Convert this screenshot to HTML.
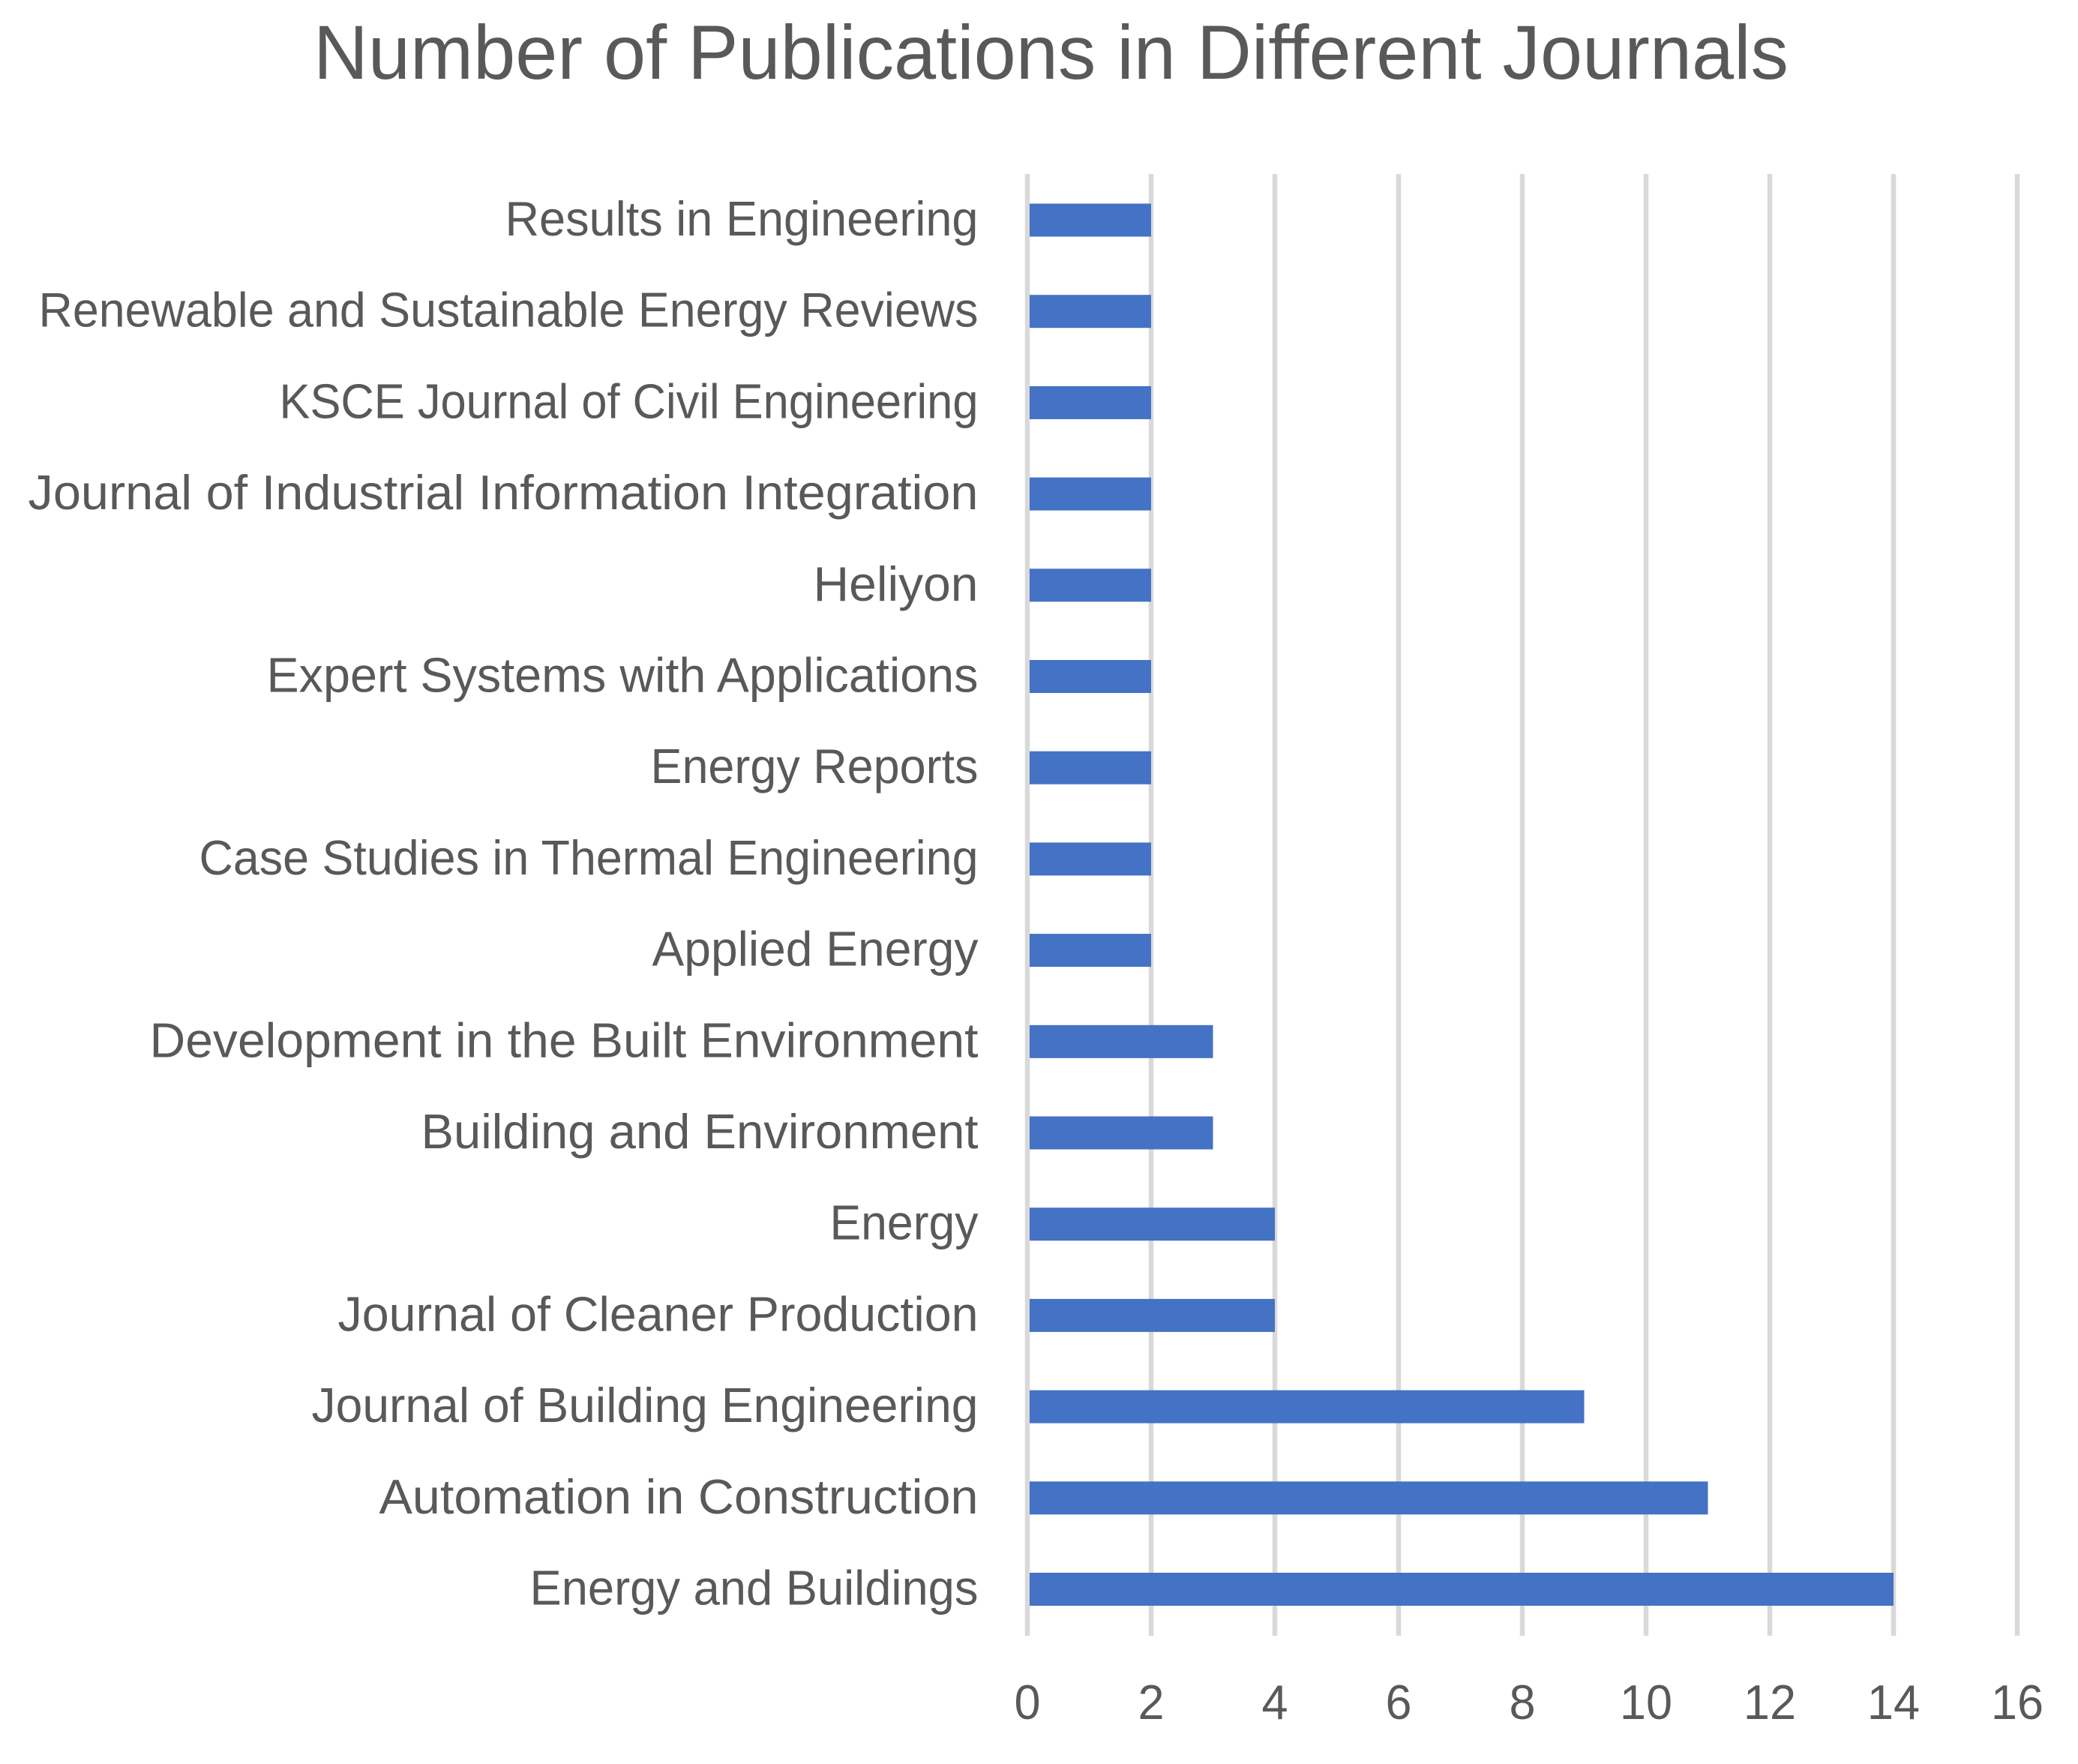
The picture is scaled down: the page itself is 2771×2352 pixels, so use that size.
<!DOCTYPE html>
<html lang="en">
<head>
<meta charset="utf-8">
<title>Number of Publications in Different Journals</title>
<style>
  html, body { margin: 0; padding: 0; background: #fff; }
  body { width: 2771px; height: 2352px; overflow: hidden; }
  svg { display: block; }
  text { font-family: "Liberation Sans", sans-serif; fill: #595959; }
  .category-label { font-size: 65px; text-anchor: end; }
</style>
</head>
<body>
<svg id="chart" xmlns="http://www.w3.org/2000/svg" width="2771" height="2352" viewBox="0 0 2771 2352">
  <rect x="0" y="0" width="2771" height="2352" fill="#ffffff"/>
  <text x="418" y="105" font-size="102" textLength="1967" lengthAdjust="spacingAndGlyphs">Number of Publications in Different Journals</text>
  <g id="grid"></g>
  <g id="bars"></g>
  <g id="ylabels">
    <text class="category-label" x="1304.5" textLength="631" lengthAdjust="spacingAndGlyphs">Results in Engineering</text>
    <text class="category-label" x="1304.5" textLength="1253" lengthAdjust="spacingAndGlyphs">Renewable and Sustainable Energy Reviews</text>
    <text class="category-label" x="1304.5" textLength="932" lengthAdjust="spacingAndGlyphs">KSCE Journal of Civil Engineering</text>
    <text class="category-label" x="1304.5" textLength="1267" lengthAdjust="spacingAndGlyphs">Journal of Industrial Information Integration</text>
    <text class="category-label" x="1304.5" textLength="220" lengthAdjust="spacingAndGlyphs">Heliyon</text>
    <text class="category-label" x="1304.5" textLength="949" lengthAdjust="spacingAndGlyphs">Expert Systems with Applications</text>
    <text class="category-label" x="1304.5" textLength="437" lengthAdjust="spacingAndGlyphs">Energy Reports</text>
    <text class="category-label" x="1304.5" textLength="1039" lengthAdjust="spacingAndGlyphs">Case Studies in Thermal Engineering</text>
    <text class="category-label" x="1304.5" textLength="435" lengthAdjust="spacingAndGlyphs">Applied Energy</text>
    <text class="category-label" x="1304.5" textLength="1105" lengthAdjust="spacingAndGlyphs">Development in the Built Environment</text>
    <text class="category-label" x="1304.5" textLength="743" lengthAdjust="spacingAndGlyphs">Building and Environment</text>
    <text class="category-label" x="1304.5" textLength="198" lengthAdjust="spacingAndGlyphs">Energy</text>
    <text class="category-label" x="1304.5" textLength="854" lengthAdjust="spacingAndGlyphs">Journal of Cleaner Production</text>
    <text class="category-label" x="1304.5" textLength="889" lengthAdjust="spacingAndGlyphs">Journal of Building Engineering</text>
    <text class="category-label" x="1304.5" textLength="799" lengthAdjust="spacingAndGlyphs">Automation in Construction</text>
    <text class="category-label" x="1304.5" textLength="598" lengthAdjust="spacingAndGlyphs">Energy and Buildings</text>
  </g>
  <g id="xlabels"></g>
</svg>
<script>
const categories = [
  "Results in Engineering",
  "Renewable and Sustainable Energy Reviews",
  "KSCE Journal of Civil Engineering",
  "Journal of Industrial Information Integration",
  "Heliyon",
  "Expert Systems with Applications",
  "Energy Reports",
  "Case Studies in Thermal Engineering",
  "Applied Energy",
  "Development in the Built Environment",
  "Building and Environment",
  "Energy",
  "Journal of Cleaner Production",
  "Journal of Building Engineering",
  "Automation in Construction",
  "Energy and Buildings"
];
const publications = [2, 2, 2, 2, 2, 2, 2, 2, 2, 3, 3, 4, 4, 9, 11, 14];
const xTicks = [0, 2, 4, 6, 8, 10, 12, 14, 16];

const NS = "http://www.w3.org/2000/svg";
const plot = { x0: 1370, x16: 2690, top: 232, bottom: 2181, firstCenter: 293.5, lastCenter: 2119 };
const xMax = xTicks[xTicks.length - 1];

function xScale(v) {
  return plot.x0 + (plot.x16 - plot.x0) * v / xMax;
}
function yCenter(i) {
  return plot.firstCenter + (plot.lastCenter - plot.firstCenter) * i / (categories.length - 1);
}
function slug(s) {
  return s.toLowerCase().replace(/[^a-z0-9]+/g, "-");
}

const gridGroup = document.getElementById("grid");
const barGroup = document.getElementById("bars");
const yLabelNodes = document.querySelectorAll("#ylabels text");
const xGroup = document.getElementById("xlabels");

xTicks.forEach(function (t) {
  const line = document.createElementNS(NS, "line");
  
  
  line.setAttribute("x1", xScale(t));
  line.setAttribute("x2", xScale(t));
  line.setAttribute("y1", plot.top);
  line.setAttribute("y2", plot.bottom);
  line.setAttribute("stroke", "#d9d9d9");
  line.setAttribute("stroke-width", "6.5");
  gridGroup.appendChild(line);

  const label = document.createElementNS(NS, "text");
  
  
  label.setAttribute("transform", "translate(" + xScale(t) + ",2292) scale(0.97,1)");
  label.setAttribute("text-anchor", "middle");
  label.setAttribute("font-size", "65");
  label.textContent = String(t);
  xGroup.appendChild(label);
});

categories.forEach(function (name, i) {
  const barX = xScale(0) + 3;
  const bar = document.createElementNS(NS, "rect");
  
  
  bar.setAttribute("x", barX);
  bar.setAttribute("y", yCenter(i) - 22);
  bar.setAttribute("width", Math.max(0, xScale(publications[i]) - barX));
  bar.setAttribute("height", 44);
  bar.setAttribute("fill", "#4472c4");
  barGroup.appendChild(bar);

  yLabelNodes[i].setAttribute("y", yCenter(i) + 20.5);
});
</script>
</body>
</html>
